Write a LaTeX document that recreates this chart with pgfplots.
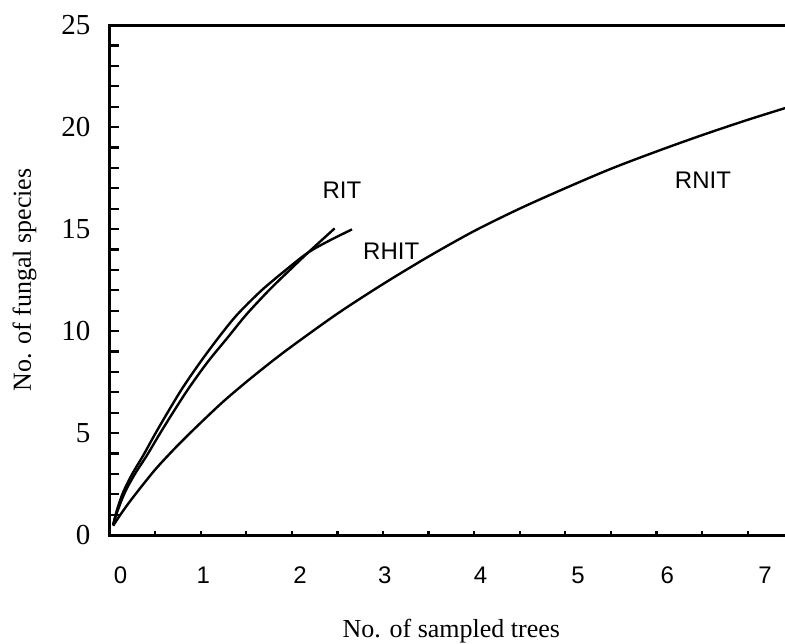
\documentclass[border=0pt]{standalone}
\usepackage{fontspec}
\setmainfont{Liberation Serif}
\newfontfamily\arial{Liberation Sans}
\usepackage{pgfplots}
\pgfplotsset{compat=1.18}
\begin{document}
\begin{tikzpicture}
\begin{axis}[
    scale only axis,
    width=341.85pt, height=255pt,
    xmin=0, xmax=7.5, ymin=0, ymax=25,
    axis line style={line width=1.5pt},
    tick pos=left, tick align=inside,
    tick style={line width=1.1pt, black},
    major tick length=4.5pt, minor tick length=2.2pt,
    ytick={0,1,...,25},
    yticklabels={0,,,,,5,,,,,10,,,,,15,,,,,20,,,,,25},
    xtick={0.12,1.03,2.09,3.02,4.07,5.14,6.12,7.19},
    xticklabels={0,1,2,3,4,5,6,7},
    major x tick style={draw=none},
    minor xtick={0.5,1,1.5,2,2.5,3,3.5,4,4.5,5,5.5,6,6.5,7},
    /pgf/number format/assume math mode=true,
    yticklabel style={font=\fontsize{14.5}{16}\selectfont, xshift=-6pt},
    xticklabel style={font=\arial\fontsize{12}{14}\selectfont, yshift=-12.5pt},
    every axis x label/.style={at={(axis description cs:0.5,0)}, anchor=base, yshift=-51pt, font=\fontsize{13}{15}\selectfont},
    every axis y label/.style={at={(axis description cs:-0.1243,0.5)}, anchor=center, rotate=90, font=\fontsize{13}{15}\selectfont},
    xlabel={No. of sampled trees},
    ylabel={No. of fungal species},
]
% RIT
\addplot[black, line width=1.2pt, smooth] coordinates {
    (0.04,0.5) (0.09,1.2) (0.17,2.1) (0.28,3.0) (0.41,3.9) (0.55,4.95)
    (0.71,6.1) (0.87,7.2) (1.08,8.5) (1.3,9.7) (1.5,10.8) (1.75,12.0)
    (1.98,13.0) (2.18,13.85) (2.47,15.03)};
% RHIT
\addplot[black, line width=1.2pt, smooth] coordinates {
    (0.04,0.5) (0.08,1.2) (0.15,2.1) (0.25,3.0) (0.37,3.9) (0.5,4.95)
    (0.65,6.1) (0.8,7.2) (1.0,8.5) (1.2,9.7) (1.4,10.8) (1.67,12.0)
    (1.95,13.05) (2.18,13.85) (2.42,14.45) (2.66,14.98)};
% RNIT
\addplot[black, line width=1.2pt, smooth] coordinates {
    (0.04,0.45) (0.12,1.0) (0.25,1.8) (0.5,3.2) (0.75,4.4) (1.0,5.5)
    (1.25,6.55) (1.5,7.5) (1.75,8.4) (2.0,9.25) (2.5,10.85) (3.0,12.3)
    (3.5,13.65) (4.0,14.9) (4.5,16.0) (5.0,17.0) (5.5,17.95) (6.0,18.8)
    (6.5,19.6) (7.0,20.35) (7.5,21.05)};
\node[font=\arial\fontsize{12}{14}\selectfont] at (axis cs:2.55,16.88) {RIT};
\node[font=\arial\fontsize{12}{14}\selectfont] at (axis cs:3.09,13.89) {RHIT};
\node[font=\arial\fontsize{12}{14}\selectfont] at (axis cs:6.51,17.40) {RNIT};
\end{axis}
\pgfresetboundingbox
\path (-54.75pt,-54pt) rectangle (337.75pt,267.5pt);
\end{tikzpicture}
\end{document}
